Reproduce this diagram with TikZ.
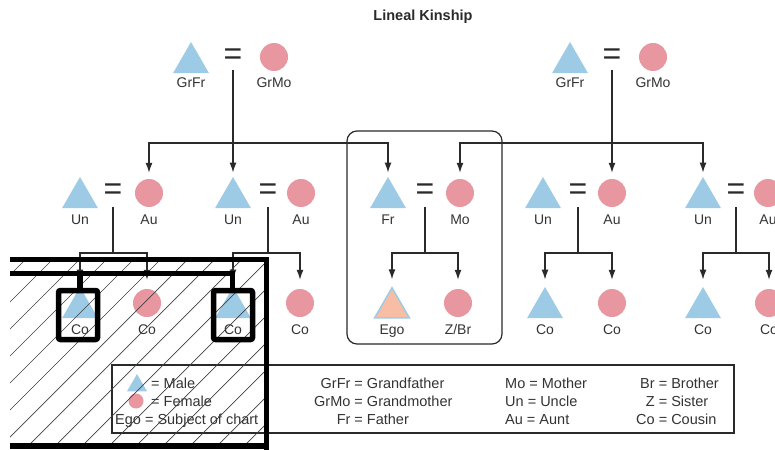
\documentclass[tikz,border=0pt]{standalone}
\usepackage{fontspec}
\setmainfont{Liberation Sans}
\usetikzlibrary{shapes.geometric,arrows.meta}
\definecolor{mblue}{HTML}{9DCBE6}
\definecolor{fpink}{HTML}{E8969F}
\definecolor{egofill}{HTML}{F7BEA5}
\definecolor{ink}{HTML}{2A2A2A}
\definecolor{txt}{HTML}{333333}
\begin{document}
\begin{tikzpicture}[x=1pt,y=-1pt,
  male/.style={regular polygon,regular polygon sides=3,minimum size=41.6pt,inner sep=0pt,fill=mblue},
  female/.style={circle,minimum size=28pt,inner sep=0pt,fill=fpink},
  lbl/.style={text=txt,font=\fontsize{14}{16}\selectfont,inner sep=0pt,anchor=base},
  eqs/.style={text=ink,font=\fontsize{32}{32}\selectfont,inner sep=0pt},
  link/.style={draw=ink,line width=1.3pt},
  arr/.style={link,-{Latex[length=10pt,width=7pt]}},
  legtxt/.style={text=txt,font=\fontsize{14.5}{18}\selectfont,inner sep=0pt,anchor=base west},
  hatchln/.style={draw=black!75,line width=0.7pt},
  overlayln/.style={draw=black,line width=5.5pt},
]
\useasboundingbox (0,0) rectangle (775,449);

% title
\node[text=ink,font=\fontsize{14.5}{16}\selectfont\bfseries,inner sep=0pt,anchor=base] (title) at (423,21) {Lineal Kinship};

% generation 0
\node[male] (gfL) at (191,62.8) {};
\node[eqs] (eqGL) at (233,57) {=};
\node[female] (gmL) at (274,57) {};
\node[lbl] (lgfL) at (191,88) {GrFr};
\node[lbl] (lgmL) at (274,88) {GrMo};

\node[male] (gfR) at (570,62.8) {};
\node[eqs] (eqGR) at (612,57) {=};
\node[female] (gmR) at (653,57) {};
\node[lbl] (lgfR) at (570,88) {GrFr};
\node[lbl] (lgmR) at (653,88) {GrMo};

% generation 1
\node[male] (un1) at (80,197.8) {};
\node[eqs] (eq1) at (113,192) {=};
\node[female] (au1) at (149,193) {};
\node[lbl] at (80,224) (lun1) {Un};
\node[lbl] at (149,224) (lau1) {Au};

\node[male] (un2) at (233,197.8) {};
\node[eqs] (eq2) at (268,192) {=};
\node[female] (au2) at (301,193) {};
\node[lbl] at (233,224) (lun2) {Un};
\node[lbl] at (301,224) (lau2) {Au};

\node[male] (fr) at (388,197.8) {};
\node[eqs] (eq3) at (425,192) {=};
\node[female] (mo) at (460,193) {};
\node[lbl] at (388,224) (lfr) {Fr};
\node[lbl] at (460,224) (lmo) {Mo};

\node[male] (un4) at (543,197.8) {};
\node[eqs] (eq4) at (578,192) {=};
\node[female] (au4) at (612,193) {};
\node[lbl] at (543,224) (lun4) {Un};
\node[lbl] at (612,224) (lau4) {Au};

\node[male] (un5) at (703,197.8) {};
\node[eqs] (eq5) at (736,192) {=};
\node[female] (au5) at (768,193) {};
\node[lbl] at (703,224) (lun5) {Un};
\node[lbl] at (768,224) (lau5) {Au};

% generation 2
\node[male] (c1a) at (80,307.8) {};
\node[female] (c1b) at (147,303) {};
\node[lbl] at (80,334) (lc1a) {Co};
\node[lbl] at (147,334) (lc1b) {Co};

\node[male] (c2a) at (233,307.8) {};
\node[female] (c2b) at (300,303) {};
\node[lbl] at (233,334) (lc2a) {Co};
\node[lbl] at (300,334) (lc2b) {Co};

\node[male,fill=egofill,draw=mblue,line width=1.5pt,minimum size=40pt] (ego) at (392,307.8) {};
\node[female] (zbr) at (458,303) {};
\node[lbl] at (392,334) (lego) {Ego};
\node[lbl] at (458,334) (lzbr) {Z/Br};

\node[male] (c4a) at (545,307.8) {};
\node[female] (c4b) at (612,303) {};
\node[lbl] at (545,334) (lc4a) {Co};
\node[lbl] at (612,334) (lc4b) {Co};

\node[male] (c5a) at (703,307.8) {};
\node[female] (c5b) at (769,303) {};
\node[lbl] at (703,334) (lc5a) {Co};
\node[lbl] at (769,334) (lc5b) {Co};

% ego family box
\node[draw=ink,line width=1.2pt,rounded corners=10pt,minimum width=155pt,minimum height=213pt,inner sep=0pt] (egobox) at (424.5,237.5) {};

% connectors gen0 -> gen1
\coordinate (hL) at (233,143);
\coordinate (hR) at (612,143);
\draw[arr,shorten >=4pt] (eqGL) ++(0,13) -- (un2.north);
\draw[arr,shorten >=6pt] (hL) -| (au1.north);
\draw[arr,shorten >=4pt] (hL) -| (fr.north);
\draw[arr,shorten >=6pt] (eqGR) ++(0,13) -- (au4.north);
\draw[arr,shorten >=6pt] (hR) -| (mo.north);
\draw[arr,shorten >=4pt] (hR) -| (un5.north);

% connectors gen1 -> gen2
\foreach \e/\a/\b in {eq1/c1a/c1b,eq2/c2a/c2b,eq3/ego/zbr,eq4/c4a/c4b,eq5/c5a/c5b}{
  \coordinate (j\e) at ([yshift=-61pt]\e.center);
  \draw[link] (\e) ++(0,15) -- (j\e);
  \draw[arr,shorten >=7pt] (j\e) -| (\a.north);
  \draw[arr,shorten >=9pt] (j\e) -| (\b.north);
}

% legend
\node[draw=ink,line width=1.2pt,minimum width=622pt,minimum height=68pt,inner sep=0pt] (legend) at (423,399) {};
\node[regular polygon,regular polygon sides=3,minimum size=23pt,inner sep=0pt,fill=mblue] (lgm) at (137,385.5) {};
\node[circle,minimum size=15pt,inner sep=0pt,fill=fpink] (lgf) at (136,401) {};
\node[legtxt] (lmale) at (151,388) {= Male};
\node[legtxt] (lfemale) at (151,406) {= Female};
\node[legtxt] (lego2) at (115,424) {Ego = Subject of chart};
\node[legtxt] (lcol2) at (314,388) {\begin{tabular}[t]{@{}r@{ = }l@{}}GrFr&Grandfather\\GrMo&Grandmother\\Fr&Father\end{tabular}};
\node[legtxt] (lcol3) at (505,388) {\begin{tabular}[t]{@{}l@{}}Mo = Mother\\Un = Uncle\\Au = Aunt\end{tabular}};
\node[legtxt] (lcol4) at (636,388) {\begin{tabular}[t]{@{}r@{ = }l@{}}Br&Brother\\Z&Sister\\Co&Cousin\end{tabular}};

% hatched overlay
\begin{scope}
  \clip (10,259) rectangle (266,446);
  \foreach \k in {-6,...,11}{
    \draw[hatchln] ({420+27*\k-446},446) -- ({420+27*\k-259},259);
  }
\end{scope}
\draw[overlayln] (10,259.5) -| (266.5,452);
\draw[overlayln] (10,446) -- (269,446);
\draw[overlayln] (10,273.5) -| (232.5,290);
\draw[overlayln] (80,273.5) -- (80,290);
\draw[overlayln,rounded corners=2pt] (58.5,290.5) rectangle (97.5,339.5);
\draw[overlayln,rounded corners=2pt] (213.5,290.5) rectangle (252.5,339.5);
\end{tikzpicture}
\end{document}
